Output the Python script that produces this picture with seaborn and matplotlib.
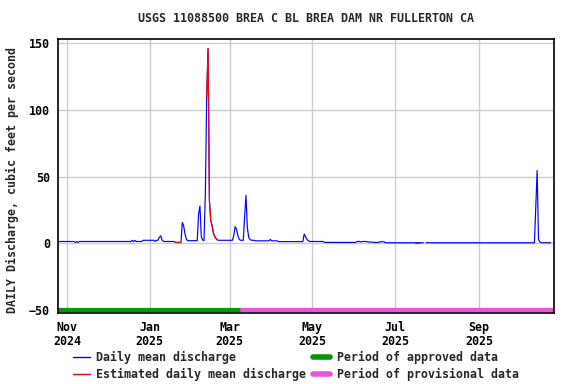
import matplotlib
matplotlib.use("Agg")
import numpy as np
import pandas as pd
import seaborn as sns
import matplotlib.pyplot as plt
import matplotlib.dates as mdates
from matplotlib.lines import Line2D

# ---------------- data ----------------
title = "USGS 11088500 BREA C BL BREA DAM NR FULLERTON CA"
y_label = "DAILY Discharge, cubic feet per second"
start_date = "2024-10-25"
# daily mean discharge, as (value, number of consecutive days)
flow_runs = [
    (1.4, 13), (0.7, 1), (1.4, 1), (0.7, 1), (1.4, 39), (2.2, 1), (1.4, 1),
    (2.2, 1), (1.4, 5), (2.3, 9), (1.4, 1), (2.3, 2), (4.5, 1), (5.7, 1),
    (2.5, 1), (1.5, 1), (1.4, 8), (0.7, 5), (15.7, 1), (13, 1), (7, 1),
    (3, 1), (2.0, 8), (22, 1), (28, 1), (5, 1), (2.5, 1), (2.0, 1),
    (38, 1), (110, 1), (146, 1), (32, 1), (17, 1), (13, 1), (7.5, 1),
    (5, 1), (3.5, 1), (2.5, 1), (2.3, 11), (6, 1), (12.5, 1), (10.7, 1),
    (6, 1), (3, 1), (2.3, 3), (20, 1), (36, 1), (12, 1), (4.5, 1), (3, 1),
    (2.3, 3), (1.9, 11), (3, 1), (1.9, 5), (1.3, 19), (7, 1), (5, 1),
    (3, 1), (2, 1), (1.4, 11), (0.7, 24), (1.4, 3), (1.0, 1), (1.4, 4),
    (1.0, 4), (0.7, 5), (1.2, 4), (0.45, 23), (0.45, 3), (0.45, 3),
    (np.nan, 1), (0.45, 81), (27.5, 1), (54.6, 1), (3, 1), (1, 1),
    (0.45, 8),
]
estimated_periods = [("2025-01-20", "2025-01-24"),
                     ("2025-02-13", "2025-02-20"),
                     ("2025-07-17", "2025-07-19")]
approved_period = ("2024-10-25", "2025-03-10")
provisional_period = ("2025-03-10", "2025-10-28")
x_range = ("2024-10-25 10:00", "2025-10-26 16:00")
y_range = (-52, 153)
y_ticks = [-50, 0, 50, 100, 150]
legend_labels = ["Daily mean discharge", "Estimated daily mean discharge",
                 "Period of approved data", "Period of provisional data"]

# ---------------- build frame ----------------
flow = []
for v, n in flow_runs:
    flow.extend([v] * n)
dates = pd.date_range(start_date, periods=len(flow), freq="D")
df = pd.DataFrame({"date": dates, "flow": flow})
df["seg"] = df["flow"].isna().cumsum()
blue = df.dropna()

red_parts = []
for i, (s, e) in enumerate(estimated_periods):
    m = (df["date"] >= pd.Timestamp(s) - pd.Timedelta(days=1)) & \
        (df["date"] <= pd.Timestamp(e))
    part = df[m].dropna().copy()
    part["seg"] = i
    red_parts.append(part)
red = pd.concat(red_parts)

# ---------------- style ----------------
sns.set_theme(style="white")
plt.rcParams["font.family"] = ["DejaVu Sans Mono"]
plt.rcParams["font.weight"] = "bold"
FS = 8.4

fig = plt.figure(figsize=(5.76, 3.84), dpi=100)
ax = fig.add_axes([58.3 / 576, 1 - 312.7 / 384, 496 / 576, 273.4 / 384])

BLUE, RED, GREEN, PINK = "#0000ff", "#ff0000", "#009900", "#ee4fdd"
LW = 0.85

sns.lineplot(data=blue, x="date", y="flow", units="seg", estimator=None,
             sort=False, color=BLUE, lw=LW, ax=ax, legend=False)
sns.lineplot(data=red, x="date", y="flow", units="seg", estimator=None,
             sort=False, color=RED, lw=LW, ax=ax, legend=False)

status = pd.DataFrame({
    "date": pd.to_datetime([approved_period[0], approved_period[1],
                            provisional_period[0], provisional_period[1]]),
    "y": [-50, -50, -50, -50],
    "kind": ["approved", "approved", "provisional", "provisional"],
})
sns.lineplot(data=status, x="date", y="y", hue="kind",
             palette={"approved": GREEN, "provisional": PINK},
             lw=3.0, ax=ax, legend=False, estimator=None)

ax.set_xlim(pd.Timestamp(x_range[0]), pd.Timestamp(x_range[1]))
ax.set_ylim(*y_range)
ax.set_yticks(y_ticks)
ax.xaxis.set_major_locator(mdates.MonthLocator(bymonth=[1, 3, 5, 7, 9, 11]))
ax.xaxis.set_major_formatter(mdates.DateFormatter("%b\n%Y"))
ax.grid(True, color="#cccccc", lw=1.0)
ax.set_axisbelow(True)
for sp in ax.spines.values():
    sp.set_color("black")
    sp.set_linewidth(1.2)
ax.tick_params(axis="both", length=0, labelsize=FS, colors="black")
ax.tick_params(axis="y", pad=6)
ax.tick_params(axis="x", pad=6)
for lab in ax.get_xticklabels():
    lab.set_fontweight("bold")
    lab.set_linespacing(1.05)
for lab in ax.get_yticklabels():
    lab.set_fontweight("bold")
ax.set_xlabel("")
ax.set_ylabel("")

fig.text(306 / 576, 1 - 19 / 384, title, ha="center", va="center",
         fontsize=FS, fontweight="bold")
fig.text(12 / 576, 1 - 180 / 384, y_label, rotation=90, ha="center",
         va="center", fontsize=FS, fontweight="bold")

handles = [Line2D([], [], color=BLUE, lw=1.0),
           Line2D([], [], color=RED, lw=1.0),
           Line2D([], [], color=GREEN, lw=4.0),
           Line2D([], [], color=PINK, lw=4.0)]
fig.legend(handles, legend_labels, ncol=2, loc="upper left",
           bbox_to_anchor=(72.5 / 576, 1 - 351 / 384), frameon=False,
           fontsize=FS, handlelength=1.46, handletextpad=0.52,
           columnspacing=0.67, labelspacing=0.35, borderpad=0,
           borderaxespad=0, prop={"weight": "bold", "size": FS})

fig.savefig("out.png", dpi=100)
